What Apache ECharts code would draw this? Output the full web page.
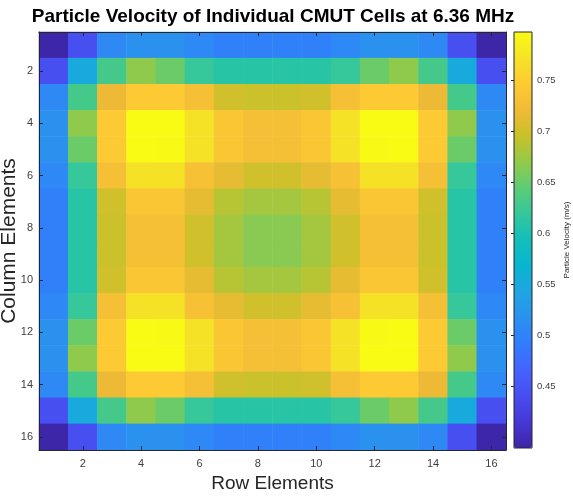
<!DOCTYPE html>
<html>
<head>
<meta charset="utf-8">
<script src="https://cdn.jsdelivr.net/npm/echarts@6/dist/echarts.min.js"></script>
<style>
  html, body { margin: 0; padding: 0; background: #ffffff; }
  #chart { width: 573px; height: 499px; }
</style>
</head>
<body>
<div id="chart"></div>
<script>
// ---- Data ----
const rowCategories = ['1','2','3','4','5','6','7','8','9','10','11','12','13','14','15','16'];
const colCategories = ['1','2','3','4','5','6','7','8','9','10','11','12','13','14','15','16'];

const row1  = [0.390,0.443,0.507,0.519,0.519,0.506,0.498,0.498,0.498,0.498,0.506,0.519,0.519,0.507,0.443,0.390];
const row2  = [0.443,0.551,0.630,0.668,0.652,0.620,0.610,0.610,0.610,0.610,0.620,0.652,0.668,0.630,0.551,0.443];
const row3  = [0.507,0.630,0.719,0.746,0.746,0.729,0.700,0.697,0.697,0.700,0.729,0.746,0.746,0.719,0.630,0.507];
const row4  = [0.519,0.668,0.746,0.797,0.797,0.771,0.739,0.729,0.729,0.739,0.771,0.797,0.797,0.746,0.668,0.519];
const row5  = [0.519,0.652,0.746,0.797,0.795,0.771,0.739,0.729,0.729,0.739,0.771,0.795,0.797,0.746,0.652,0.519];
const row6  = [0.506,0.620,0.729,0.771,0.771,0.732,0.714,0.700,0.700,0.714,0.732,0.771,0.771,0.729,0.620,0.506];
const row7  = [0.498,0.610,0.700,0.739,0.739,0.714,0.687,0.678,0.678,0.687,0.714,0.739,0.739,0.700,0.610,0.498];
const row8  = [0.498,0.610,0.697,0.729,0.729,0.700,0.678,0.665,0.665,0.678,0.700,0.729,0.729,0.697,0.610,0.498];
const row9  = [0.498,0.610,0.697,0.729,0.729,0.700,0.678,0.665,0.665,0.678,0.700,0.729,0.729,0.697,0.610,0.498];
const row10 = [0.498,0.610,0.700,0.739,0.739,0.714,0.687,0.678,0.678,0.687,0.714,0.739,0.739,0.700,0.610,0.498];
const row11 = [0.506,0.620,0.729,0.771,0.771,0.732,0.714,0.700,0.700,0.714,0.732,0.771,0.771,0.729,0.620,0.506];
const row12 = [0.519,0.652,0.746,0.797,0.795,0.771,0.739,0.729,0.729,0.739,0.771,0.795,0.797,0.746,0.652,0.519];
const row13 = [0.519,0.668,0.746,0.797,0.797,0.771,0.739,0.729,0.729,0.739,0.771,0.797,0.797,0.746,0.668,0.519];
const row14 = [0.507,0.630,0.719,0.746,0.746,0.729,0.700,0.697,0.697,0.700,0.729,0.746,0.746,0.719,0.630,0.507];
const row15 = [0.443,0.551,0.630,0.668,0.652,0.620,0.610,0.610,0.610,0.610,0.620,0.652,0.668,0.630,0.551,0.443];
const row16 = [0.390,0.443,0.507,0.519,0.519,0.506,0.498,0.498,0.498,0.498,0.506,0.519,0.519,0.507,0.443,0.390];

const colorbarTicks = [0.45, 0.5, 0.55, 0.6, 0.65, 0.7, 0.75];
const colorMin = 0.39;
const colorMax = 0.797;

const parula = ['#3e26a8','#4537d5','#484df0','#4563fd','#327cfc','#2b91ef','#20a5e3','#08b5d0',
                '#12beb9','#34c79c','#5ccc76','#93ca4a','#c8c129','#f1ba37','#feca33','#f5e327','#f9fb15'];

// ---- Build series data ----
const allRows = [row1,row2,row3,row4,row5,row6,row7,row8,row9,row10,row11,row12,row13,row14,row15,row16];
const heatData = [];
allRows.forEach(function (row, r) {
  row.forEach(function (v, c) { heatData.push([c, r, v]); });
});

const FONT = "'Liberation Sans', Arial, Helvetica, sans-serif";
const evenIdx = function (i) { return i % 2 === 1; };
const lineStyle = { color: '#262626', width: 1 };

const chart = echarts.init(document.getElementById('chart'), null, { renderer: 'canvas' });
chart.setOption({
  animation: false,
  backgroundColor: '#ffffff',
  textStyle: { fontFamily: FONT },
  title: {
    text: 'Particle Velocity of Individual CMUT Cells at 6.36 MHz',
    left: 273, top: 7, padding: 0, textAlign: 'center',
    textStyle: { fontFamily: FONT, fontSize: 19, fontWeight: 'bold', color: '#000000' }
  },
  grid: [
    { left: 39, top: 32, width: 467, height: 418, show: false,
      containLabel: false, outerBoundsMode: 'none' },
    { left: 514, top: 32, width: 18, height: 416, show: true, z: 10,
      containLabel: false, outerBoundsMode: 'none',
      backgroundColor: 'transparent', borderColor: '#262626', borderWidth: 1 }
  ],
  xAxis: [
    { type: 'category', data: colCategories, gridIndex: 0, position: 'bottom',
      axisLine: { show: true, lineStyle: lineStyle },
      axisTick: { show: true, inside: true, length: 4, interval: evenIdx, alignWithLabel: true, lineStyle: lineStyle },
      axisLabel: { interval: evenIdx, margin: 8, fontSize: 11, color: '#404040', fontFamily: FONT },
      splitLine: { show: false },
      name: 'Row Elements', nameLocation: 'middle', nameGap: 24, nameMoveOverlap: false,
      nameTextStyle: { fontSize: 19, color: '#262626', fontFamily: FONT },
      z: 5 },
    { type: 'category', data: colCategories, gridIndex: 0, position: 'top',
      axisLine: { show: true, lineStyle: lineStyle },
      axisTick: { show: true, inside: true, length: 4, interval: evenIdx, alignWithLabel: true, lineStyle: lineStyle },
      axisLabel: { show: false }, splitLine: { show: false }, z: 5 },
    { type: 'value', gridIndex: 1, show: false, min: 0, max: 1 }
  ],
  yAxis: [
    { type: 'category', data: rowCategories, gridIndex: 0, position: 'left', inverse: true,
      axisLine: { show: true, lineStyle: lineStyle },
      axisTick: { show: true, inside: true, length: 4, interval: evenIdx, alignWithLabel: true, lineStyle: lineStyle },
      axisLabel: { interval: evenIdx, margin: 6, fontSize: 11, color: '#404040', fontFamily: FONT },
      splitLine: { show: false },
      name: 'Column Elements', nameLocation: 'middle', nameGap: 19, nameRotate: 90, nameMoveOverlap: false,
      nameTextStyle: { fontSize: 21, color: '#262626', fontFamily: FONT },
      z: 5 },
    { type: 'category', data: rowCategories, gridIndex: 0, position: 'right', inverse: true,
      axisLine: { show: true, lineStyle: lineStyle },
      axisTick: { show: true, inside: true, length: 4, interval: evenIdx, alignWithLabel: true, lineStyle: lineStyle },
      axisLabel: { show: false }, splitLine: { show: false }, z: 5 },
    { type: 'value', gridIndex: 1, position: 'right', min: colorMin, max: colorMax,
      axisLine: { show: false },
      axisTick: { show: true, inside: true, length: 3, customValues: colorbarTicks, lineStyle: lineStyle },
      axisLabel: { show: true, customValues: colorbarTicks, margin: 5, fontSize: 9.5, color: '#404040', fontFamily: FONT,
                   formatter: function (v) { return String(+v.toFixed(2)); } },
      splitLine: { show: false },
      name: 'Particle Velocity (m/s)', nameLocation: 'middle', nameGap: 31, nameRotate: 90, nameMoveOverlap: false,
      nameTextStyle: { fontSize: 8, color: '#262626', fontFamily: FONT },
      z: 10 }
  ],
  visualMap: {
    type: 'continuous', min: colorMin, max: colorMax, dimension: 2, seriesIndex: 0,
    orient: 'vertical', left: 514, top: 32, itemWidth: 18, itemHeight: 416, padding: 0,
    calculable: false, hoverLink: false, text: null, show: true,
    inRange: { color: parula }
  },
  series: [{
    type: 'heatmap', xAxisIndex: 0, yAxisIndex: 0, data: heatData,
    itemStyle: { borderWidth: 0 },
    emphasis: { disabled: true }
  }]
});
</script>
</body>
</html>
